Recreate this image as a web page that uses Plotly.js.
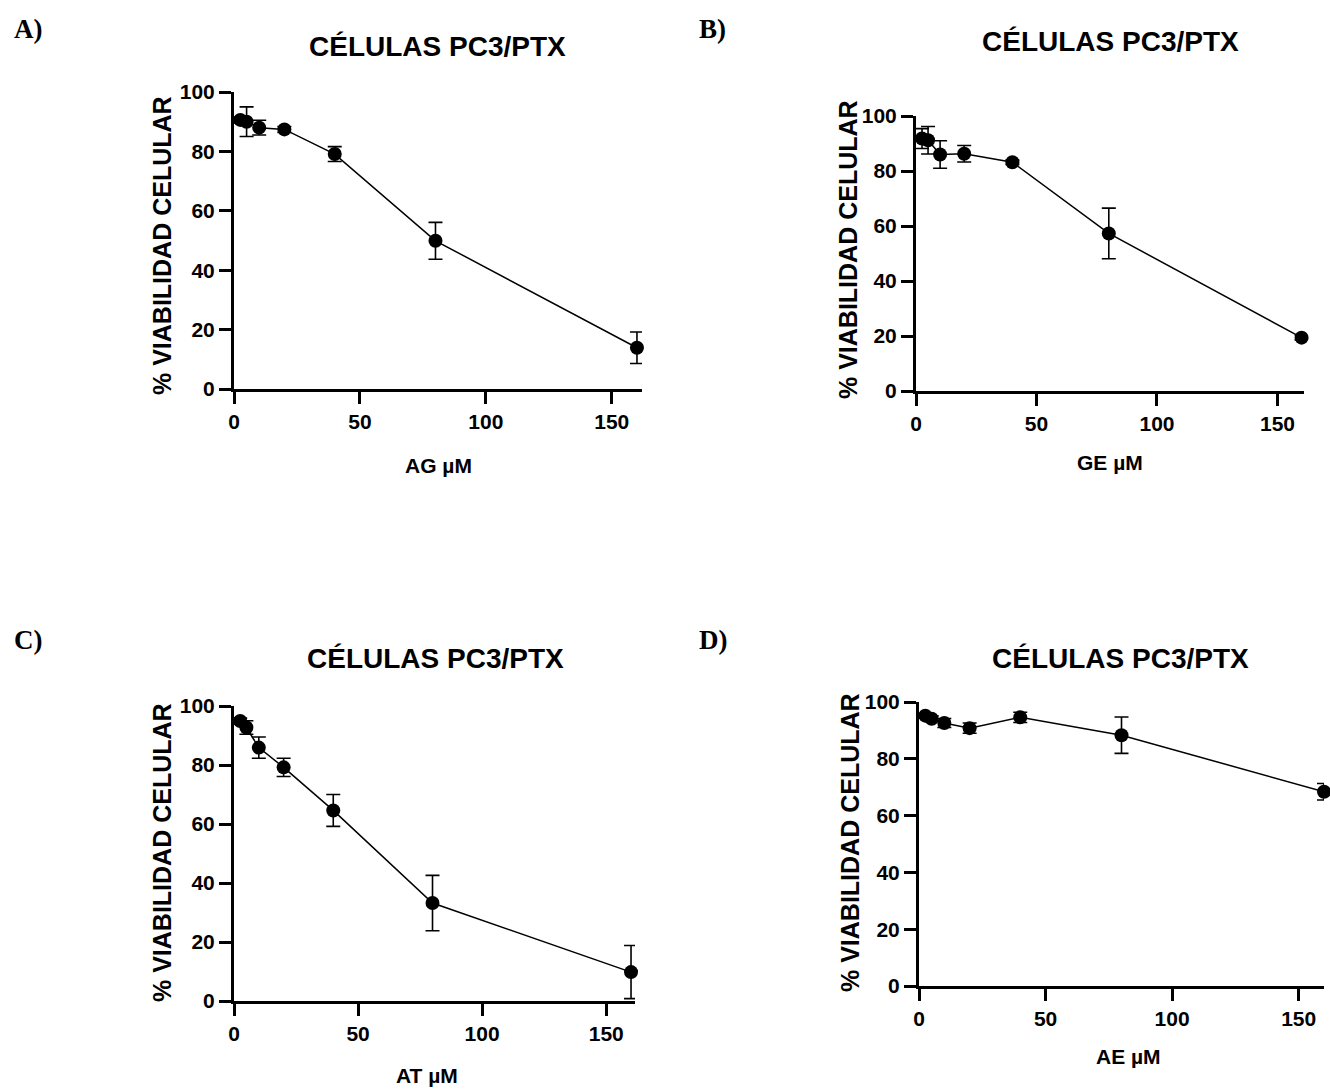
<!DOCTYPE html>
<html>
<head>
<meta charset="utf-8">
<script src="https://cdn.plot.ly/plotly-3.0.1.min.js"></script>
<style>html,body{margin:0;padding:0;background:#fff;}#chart{width:1330px;height:1091px;}</style>
</head>
<body>
<div id="chart"></div>
<script>
// Concentrations (µM)
const concentrations = [2.5, 5, 10, 20, 40, 80, 160];

// Panel A: AG
const viabilityAG = [90.6, 90.0, 88.0, 87.4, 79.1, 49.9, 13.9];
const errorAG     = [1.0, 5.0, 2.5, 1.0, 2.5, 6.2, 5.3];
// Panel B: GE
const viabilityGE = [91.8, 91.2, 86.0, 86.3, 83.2, 57.3, 19.4];
const errorGE     = [3.6, 5.0, 5.0, 3.0, 0.8, 9.2, 0.8];
// Panel C: AT
const viabilityAT = [94.9, 92.7, 85.9, 79.2, 64.6, 33.2, 9.8];
const errorAT     = [1.0, 2.3, 3.6, 3.1, 5.4, 9.4, 9.0];
// Panel D: AE
const viabilityAE = [95.2, 94.1, 92.6, 90.8, 94.6, 88.3, 68.4];
const errorAE     = [0.8, 1.0, 1.6, 1.8, 1.8, 6.4, 2.9];

const panelLetters = ["A)", "B)", "C)", "D)"];
const panelTitle = "CÉLULAS PC3/PTX";
const xAxisTitles = ["AG µM", "GE µM", "AT µM", "AE µM"];
const yAxisTitle = "% VIABILIDAD CELULAR";
const xTickVals = [0, 50, 100, 150];
const xTickText = ["0", "50", "100", "150"];
const yTickVals = [0, 20, 40, 60, 80, 100];
const yTickText = ["0", "20", "40", "60", "80", "100"];

const W = 1330, H = 1091;
const px = v => v / W;
const py = v => 1 - v / H;
const b = t => "<b>" + t + "</b>";

const sans = {family: "Liberation Sans, Arial, sans-serif", color: "#000"};
const serif = {family: "Liberation Serif, Times New Roman, serif", color: "#000"};

// pixel geometry of each panel
const geo = [
  {x0: 234, x1: 642, y0: 389, y1: 92, xmax: 162, tx: 437, ty: 46, lx: 12, ly: 29, yx: 162, yy: 246, xx: 438, xy: 465},
  {x0: 916, x1: 1304, y0: 391, y1: 116, xmax: 161, tx: 1110, ty: 42, lx: 697, ly: 29, yx: 848, yy: 250, xx: 1110, xy: 462},
  {x0: 234, x1: 635, y0: 1001, y1: 706, xmax: 161.6, tx: 435, ty: 658, lx: 12, ly: 640, yx: 162, yy: 853, xx: 427, xy: 1075},
  {x0: 919, x1: 1324, y0: 986, y1: 702, xmax: 160, tx: 1120, ty: 658, lx: 697, ly: 640, yx: 850, yy: 843, xx: 1128, xy: 1056}
];

const series = [
  [viabilityAG, errorAG],
  [viabilityGE, errorGE],
  [viabilityAT, errorAT],
  [viabilityAE, errorAE]
];

const traces = [];
const layout = {
  width: W, height: H,
  margin: {l: 0, r: 0, t: 0, b: 0},
  paper_bgcolor: "#fff", plot_bgcolor: "#fff",
  showlegend: false,
  annotations: []
};

series.forEach((s, i) => {
  const n = i === 0 ? "" : String(i + 1);
  traces.push({
    type: "scatter", mode: "lines+markers",
    x: concentrations, y: s[0],
    xaxis: "x" + n, yaxis: "y" + n,
    line: {color: "#000", width: 1.5},
    marker: {color: "#000", size: 14},
    error_y: {type: "data", array: s[1], visible: true, color: "#000", thickness: 1.6, width: 7},
    cliponaxis: false
  });
  const g = geo[i];
  const axCommon = {
    showgrid: false, zeroline: false, showline: true, linecolor: "#000", linewidth: 3,
    ticks: "outside", ticklen: 12, tickwidth: 3, tickcolor: "#000",
    tickfont: Object.assign({size: 21}, sans), fixedrange: true
  };
  layout["xaxis" + n] = Object.assign({}, axCommon, {
    domain: [px(g.x0), px(g.x1)], range: [0, g.xmax],
    tickmode: "array", tickvals: xTickVals, ticktext: xTickText.map(b), anchor: "y" + n
  });
  layout["yaxis" + n] = Object.assign({}, axCommon, {
    domain: [py(g.y0), py(g.y1)], range: [0, 100],
    tickmode: "array", tickvals: yTickVals, ticktext: yTickText.map(b), anchor: "x" + n
  });
  layout.annotations.push(
    {xref: "paper", yref: "paper", x: px(g.tx), y: py(g.ty), text: b(panelTitle), showarrow: false,
     xanchor: "center", yanchor: "middle", font: Object.assign({size: 28}, sans)},
    {xref: "paper", yref: "paper", x: px(g.lx), y: py(g.ly), text: b(panelLetters[i]), showarrow: false,
     xanchor: "left", yanchor: "middle", font: Object.assign({size: 27}, serif)},
    {xref: "paper", yref: "paper", x: px(g.yx), y: py(g.yy), text: b(yAxisTitle), showarrow: false, textangle: -90,
     xanchor: "center", yanchor: "middle", font: Object.assign({size: 25}, sans)},
    {xref: "paper", yref: "paper", x: px(g.xx), y: py(g.xy), text: b(xAxisTitles[i]), showarrow: false,
     xanchor: "center", yanchor: "middle", font: Object.assign({size: 21}, sans)}
  );
});

Plotly.newPlot("chart", traces, layout, {displayModeBar: false, staticPlot: true});
</script>
</body>
</html>
